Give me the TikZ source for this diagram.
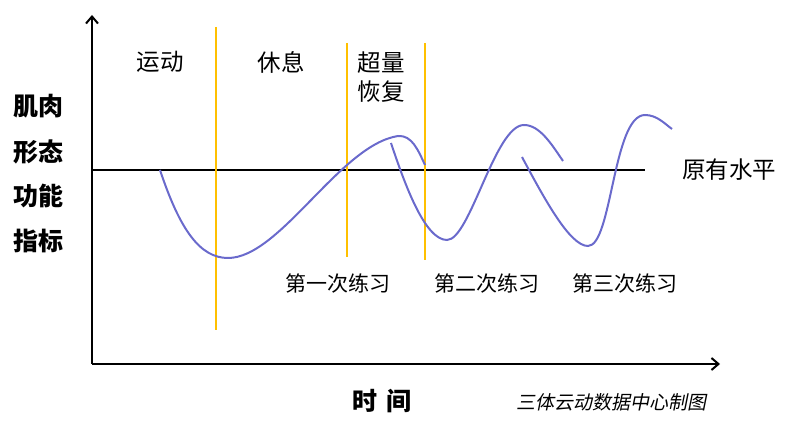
\documentclass[tikz,border=0pt]{standalone}
\usepackage{fontspec}
\setmainfont{Noto Sans CJK SC}
\newfontfamily\slantcjk{Noto Sans CJK SC}[FakeSlant=0.2]
\usepackage{tikz}
\usetikzlibrary{arrows.meta}
\definecolor{phasegold}{RGB}{255,192,0}
\definecolor{wavecol}{RGB}{106,106,204}

\begin{document}
\begin{tikzpicture}[x=1pt,y=-1pt,
   axis/.style={line width=2pt,-{Straight Barb[length=7pt,width=12pt]}},
   phase/.style={line width=2pt,color=phasegold},
   wave/.style={line width=2pt,color=wavecol},
   lbl/.style={inner sep=0pt,font=\fontsize{23.5}{29}\selectfont},
   small/.style={inner sep=0pt,font=\fontsize{21}{24}\selectfont},
   ylbl/.style={inner sep=0pt,font=\fontsize{25}{28}\selectfont\bfseries}]
   \useasboundingbox (0,0) rectangle (785,427);
   % axes
   \coordinate (O) at (92,364);
   \coordinate (ytop) at (92,15);
   \coordinate (xend) at (720,364);
   \draw[axis] (O) -- (ytop);
   \draw[axis] (O) -- (xend);
   % baseline
   \coordinate (b0) at (92,170);
   \coordinate (b1) at (645,170);
   \draw[line width=2.5pt] (b0) -- (b1);
   \node[lbl,anchor=west] (base) at (682,170) {原有水平};
   % phase borders
   \coordinate (p1t) at (216,27);  \coordinate (p1b) at (216,330);
   \coordinate (p2t) at (347,43);  \coordinate (p2b) at (347,257);
   \coordinate (p3t) at (425,43);  \coordinate (p3b) at (425,260);
   \draw[phase] (p1t) -- (p1b);
   \draw[phase] (p2t) -- (p2b);
   \draw[phase] (p3t) -- (p3b);
   \node[lbl] (move) at (160,62) {运动};
   \node[lbl] (rest) at (281,62) {休息};
   \node[lbl,align=center] (super) at (381,77) {超量\\恢复};
   % waves
   \draw[wave] (160,170) .. controls (180,230) and (200,258) .. (228,258)
      .. controls (280,258) and (340,145) .. (398,136)
      .. controls (412,135) and (418,150) .. (425,165);
   \draw[wave] (391,143) .. controls (405,185) and (425,240) .. (447,240)
      .. controls (470,240) and (495,125) .. (524,125)
      .. controls (540,125) and (552,145) .. (563,161);
   \draw[wave] (522,157) .. controls (545,200) and (570,246) .. (588,246)
      .. controls (612,246) and (613,115) .. (645,115)
      .. controls (657,115) and (665,124) .. (672,129);
   \node[small] (ex1) at (338,284) {第一次练习};
   \node[small] (ex2) at (487,284) {第二次练习};
   \node[small] (ex3) at (625,284) {第三次练习};
   % axis labels
   \node[ylbl] (y1) at (38,106) {肌肉};
   \node[ylbl] (y2) at (38,152) {形态};
   \node[ylbl] (y3) at (38,196) {功能};
   \node[ylbl] (y4) at (38,241) {指标};
   \node[ylbl] (time) at (382,401) {时\hspace{0.35em}间};
   \node[inner sep=0pt,font=\fontsize{19}{22}\slantcjk] (credit) at (611,402) {三体云动数据中心制图};
\end{tikzpicture}
\end{document}
